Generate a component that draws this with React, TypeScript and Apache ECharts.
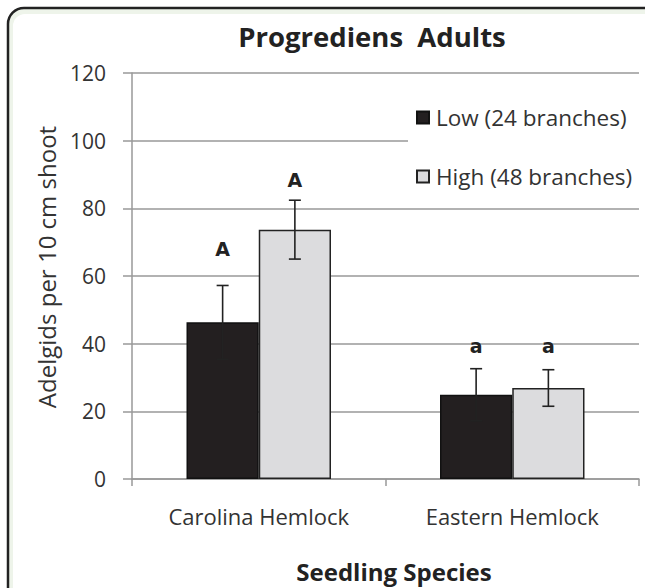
import React, { useEffect, useRef } from "react";
import * as echarts from "echarts";

const categories = ["Carolina Hemlock", "Eastern Hemlock"];
const seriesNames = ["Low (24 branches)", "High (48 branches)"];
const lowMeans = [46.3, 24.9];
const highMeans = [73.7, 26.9];
const lowErr = [10.9, 7.7];
const highErr = [8.7, 5.4];
const lowLetters = ["A", "a"];
const highLetters = ["A", "a"];
const lowLetterY = [67.9, 39.3];
const highLetterY = [88.3, 39.3];
const yTicks = { min: 0, max: 120, interval: 20 };

const FONT = "Open Sans";
const CAT_GAP = 0.43;

function barOffset(api: any, side: number) {
  const band = api.size([1, 0])[0];
  const bw = (band * (1 - CAT_GAP)) / 2;
  return (side * bw) / 2;
}

function makeErrSeries(means: number[], errs: number[], side: number) {
  return {
    type: "custom",
    silent: true,
    z: 5,
    data: means.map((m, i) => [i, m - errs[i], m + errs[i]]),
    encode: { x: 0, y: [1, 2] },
    renderItem: (params: any, api: any) => {
      const i = api.value(0);
      const lo = api.coord([i, api.value(1)]);
      const hi = api.coord([i, api.value(2)]);
      const x = lo[0] + barOffset(api, side);
      const cap = 6;
      const style = { stroke: "#222", lineWidth: 1.6 };
      return {
        type: "group",
        children: [
          { type: "line", shape: { x1: x, y1: lo[1], x2: x, y2: hi[1] }, style },
          { type: "line", shape: { x1: x - cap, y1: hi[1], x2: x + cap, y2: hi[1] }, style },
          { type: "line", shape: { x1: x - cap, y1: lo[1], x2: x + cap, y2: lo[1] }, style },
        ],
      };
    },
  };
}

function makeLetterSeries(ys: number[], letters: string[], side: number) {
  return {
    type: "custom",
    silent: true,
    z: 6,
    data: ys.map((y, i) => [i, y, letters[i]]),
    encode: { x: 0, y: 1 },
    renderItem: (params: any, api: any) => {
      const i = api.value(0);
      const p = api.coord([i, api.value(1)]);
      const x = p[0] + barOffset(api, side);
      return {
        type: "text",
        x,
        y: p[1],
        style: {
          text: letters[i],
          fill: "#222",
          font: `bold 19px "DejaVu Sans", Verdana, sans-serif`,
          align: "center",
          verticalAlign: "middle",
        },
      };
    },
  };
}

export default function App() {
  const ref = useRef<HTMLDivElement>(null);
  useEffect(() => {
    if (!ref.current) return;
    const chart = echarts.init(ref.current, undefined, { renderer: "svg" });
    chart.setOption({
      animation: false,
      backgroundColor: "#ffffff",
      textStyle: { fontFamily: FONT },
      graphic: [
        {
          type: "rect",
          z: -10,
          silent: true,
          shape: { x: 8, y: 8, width: 680, height: 640, r: 16 },
          style: { fill: "#eef4ea", stroke: "#222", lineWidth: 2.5 },
        },
        {
          type: "rect",
          z: -9,
          silent: true,
          shape: { x: 13, y: 14, width: 680, height: 640, r: 12 },
          style: { fill: "#ffffff" },
        },
      ],
      title: {
        text: "Progrediens  Adults",
        left: 367,
        top: 17,
        textAlign: "center",
        textStyle: { fontFamily: FONT, fontSize: 27.5, fontWeight: "bold", color: "#222" },
      },
      legend: {
        orient: "vertical",
        left: 408,
        top: 92,
        padding: [14, 8, 14, 8],
        backgroundColor: "#ffffff",
        itemWidth: 12,
        itemHeight: 12,
        itemGap: 36,
        icon: "rect",
        data: seriesNames,
        textStyle: { fontFamily: FONT, fontSize: 22.5, color: "#333", padding: [0, 0, 0, 2] },
      },
      grid: { left: 132, right: 6, top: 73, bottom: 103 },
      xAxis: {
        type: "category",
        data: categories,
        name: "Seedling Species",
        nameLocation: "middle",
        nameGap: 80,
        nameTextStyle: {
          fontFamily: FONT,
          fontSize: 24,
          fontWeight: "bold",
          color: "#222",
          padding: [0, 0, 0, 17],
        },
        axisLine: { lineStyle: { color: "#999", width: 1.5 } },
        axisTick: { show: true, alignWithLabel: false, length: 7, lineStyle: { color: "#999", width: 1.5 } },
        axisLabel: { fontFamily: FONT, fontSize: 22, color: "#333", margin: 26 },
      },
      yAxis: {
        type: "value",
        min: yTicks.min,
        max: yTicks.max,
        interval: yTicks.interval,
        name: "Adelgids per 10 cm shoot",
        nameLocation: "middle",
        nameGap: 74,
        nameTextStyle: { fontFamily: FONT, fontSize: 24, color: "#333", padding: [0, 0, 0, 18] },
        axisLine: { show: true, lineStyle: { color: "#999", width: 1.5 } },
        axisTick: { show: true, length: 9, lineStyle: { color: "#999", width: 1.5 } },
        axisLabel: { fontFamily: FONT, fontSize: 21, color: "#333", margin: 26 },
        splitLine: { lineStyle: { color: "#999", width: 1.5 } },
      },
      series: [
        {
          name: seriesNames[0],
          type: "bar",
          data: lowMeans,
          barGap: "0%",
          barCategoryGap: "43%",
          itemStyle: { color: "#231f20", borderColor: "#111", borderWidth: 1.5 },
        },
        {
          name: seriesNames[1],
          type: "bar",
          data: highMeans,
          barGap: "0%",
          barCategoryGap: "43%",
          itemStyle: { color: "#dcdcde", borderColor: "#222", borderWidth: 1.5 },
        },
        makeErrSeries(lowMeans, lowErr, -1),
        makeErrSeries(highMeans, highErr, 1),
        makeLetterSeries(lowLetterY, lowLetters, -1),
        makeLetterSeries(highLetterY, highLetters, 1),
      ],
    });
    return () => chart.dispose();
  }, []);
  return (
    <div
      ref={ref}
      style={{ position: "fixed", left: 0, top: 0, width: 645, height: 588 }}
    />
  );
}
